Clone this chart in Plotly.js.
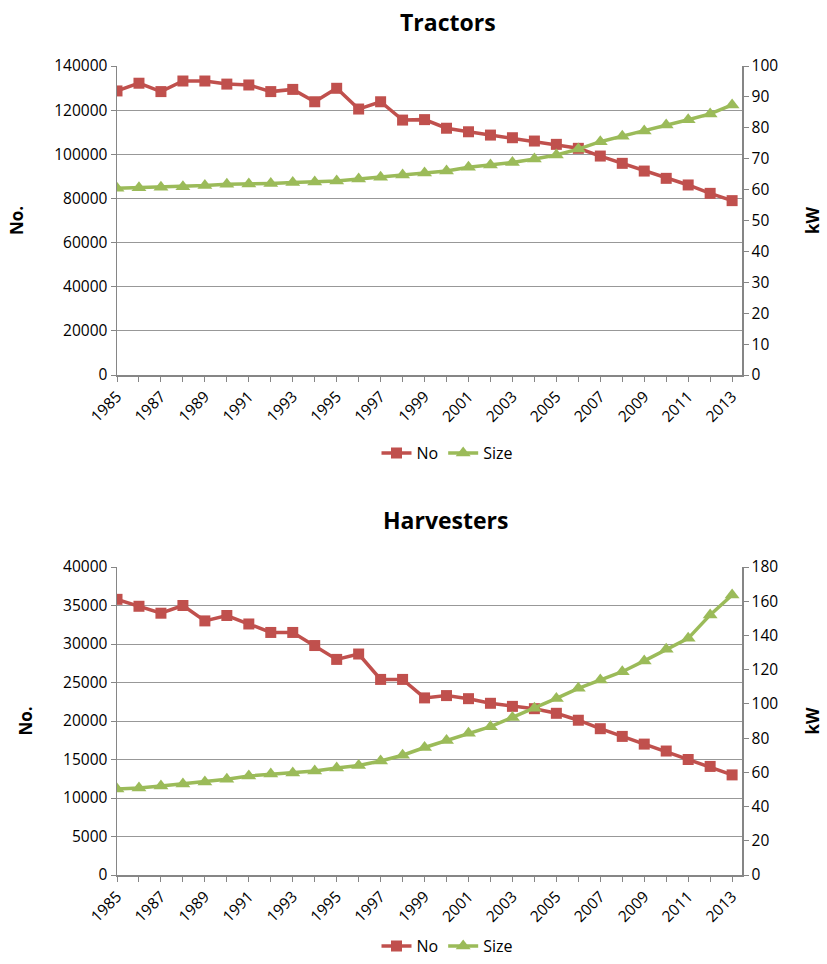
<!DOCTYPE html>
<html>
<head>
<meta charset="utf-8">
<script src="https://cdn.plot.ly/plotly-3.0.1.min.js"></script>
<style>html,body{margin:0;padding:0;background:#fff}#chart{width:827px;height:964px}</style>
</head>
<body>
<div id="chart"></div>
<script>
const years = [1985,1986,1987,1988,1989,1990,1991,1992,1993,1994,1995,1996,1997,1998,1999,2000,2001,2002,2003,2004,2005,2006,2007,2008,2009,2010,2011,2012,2013];
const tractorsNo = [128700,132200,128400,133200,133200,131800,131400,128400,129400,123800,129900,120500,123800,115500,115700,111800,110200,108700,107500,106000,104500,102700,99200,95900,92400,89100,86100,82300,79000];
const tractorsSize = [60.4,60.6,60.8,60.9,61.3,61.7,61.8,62.0,62.3,62.5,62.8,63.4,64.0,64.7,65.4,66.0,67.2,68.0,68.8,69.9,71.2,73.1,75.5,77.3,79.0,80.9,82.6,84.5,87.4];
const harvNo = [35800,34900,34000,35000,33000,33700,32600,31500,31500,29800,28000,28700,25400,25400,23000,23300,22900,22300,21900,21600,21000,20100,19000,18000,17000,16100,15000,14100,13000];
const harvSize = [50.3,50.8,52.0,53.2,54.4,56.0,57.9,59.0,59.6,60.8,62.5,64.0,66.6,70.0,74.5,78.6,82.8,86.7,92.1,97.4,103.2,109.1,114.0,118.8,125.1,131.9,138.3,152.0,163.6];
const xTickVals = [1985,1987,1989,1991,1993,1995,1997,1999,2001,2003,2005,2007,2009,2011,2013];
const titles = ['Tractors','Harvesters'];
const seriesNames = ['No','Size'];

const red = '#C0504D', green = '#9BBB59', axisGray = '#868686', gridGray = '#989898';
const FONT = 'Open Sans, sans-serif';

const traces = [
  {x: years, y: tractorsNo, name: seriesNames[0], xaxis:'x', yaxis:'y', mode:'lines+markers',
   line:{color:red,width:3.5}, marker:{symbol:'square',size:11,color:red}, legend:'legend'},
  {x: years, y: tractorsSize, name: seriesNames[1], xaxis:'x', yaxis:'y2', mode:'lines+markers',
   line:{color:green,width:3.5}, marker:{symbol:'triangle-up',size:13,color:green}, legend:'legend'},
  {x: years, y: harvNo, name: seriesNames[0], xaxis:'x2', yaxis:'y3', mode:'lines+markers',
   line:{color:red,width:3.5}, marker:{symbol:'square',size:11,color:red}, legend:'legend2'},
  {x: years, y: harvSize, name: seriesNames[1], xaxis:'x2', yaxis:'y4', mode:'lines+markers',
   line:{color:green,width:3.5}, marker:{symbol:'triangle-up',size:13,color:green}, legend:'legend2'}
];

// paper height (px) between margins: 964 - 40
const PH = 924;
const py = p => (PH - p) / PH;

const tickFont = {family: FONT, size: 15.5, color:'#000'};
function xAx(anchor){
  return {anchor: anchor, range:[1985, 2013.45], tickvals: xTickVals, ticktext: xTickVals.map(String),
    tickangle:-45, tickfont: tickFont, showline:true, linecolor:axisGray, linewidth:1.5,
    ticks:'outside', ticklen:5, tickcolor:axisGray, showgrid:false, zeroline:false,
    minor:{dtick:1, tick0:1985, ticks:'outside', ticklen:5, tickcolor:axisGray, showgrid:false}};
}
function yLeft(domain, range, dtick){
  return {domain: domain, range: range, dtick: dtick, tick0:0, tickformat:'d', tickfont: tickFont,
    showline:true, linecolor:axisGray, linewidth:1.5, ticks:'outside', ticklen:5, tickcolor:axisGray,
    showgrid:true, gridcolor:gridGray, gridwidth:1, zeroline:false,
    title:{text:'<b>No.</b>', font:{family:FONT,size:17,color:'#000'}, standoff:26}};
}
function yRight(overlay, anchor, range, dtick){
  return {overlaying: overlay, anchor: anchor, side:'right', range: range, dtick: dtick, tick0:0,
    tickformat:'d', tickfont: tickFont, showline:true, linecolor:axisGray, linewidth:1.5, ticks:'outside', ticklen:5,
    tickcolor:axisGray, showgrid:false, zeroline:false,
    title:{text:'<b>kW</b>', font:{family:FONT,size:17,color:'#000'}, standoff:30}};
}

const layout = {
  width: 827, height: 964,
  margin: {l:117, r:85, t:0, b:40},
  paper_bgcolor:'#fff', plot_bgcolor:'#fff',
  font: {family: FONT, color:'#000'},
  xaxis: xAx('y'),
  xaxis2: xAx('y3'),
  yaxis: yLeft([py(375), py(66)], [0,140000], 20000),
  yaxis2: yRight('y','x',[0,100],10),
  yaxis3: yLeft([py(875), py(567)], [0,40000], 5000),
  yaxis4: yRight('y3','x2',[0,180],20),
  legend: {orientation:'h', x:0.528, xanchor:'center', y:py(453), yanchor:'middle',
    font:{family:FONT,size:16,color:'#000'}, tracegroupgap:0},
  legend2: {orientation:'h', x:0.528, xanchor:'center', y:py(963), yanchor:'bottom',
    font:{family:FONT,size:16,color:'#000'}, tracegroupgap:0},
  annotations: [
    {text:'<b>'+titles[0]+'</b>', xref:'paper', yref:'paper', x:(448-117)/625, y:py(22), xanchor:'center', yanchor:'middle',
     showarrow:false, font:{family:FONT,size:23,color:'#000'}},
    {text:'<b>'+titles[1]+'</b>', xref:'paper', yref:'paper', x:(446-117)/625, y:py(520), xanchor:'center', yanchor:'middle',
     showarrow:false, font:{family:FONT,size:23,color:'#000'}}
  ],
  showlegend: true
};

Plotly.newPlot('chart', traces, layout, {displayModeBar:false, staticPlot:true});
</script>
</body>
</html>
